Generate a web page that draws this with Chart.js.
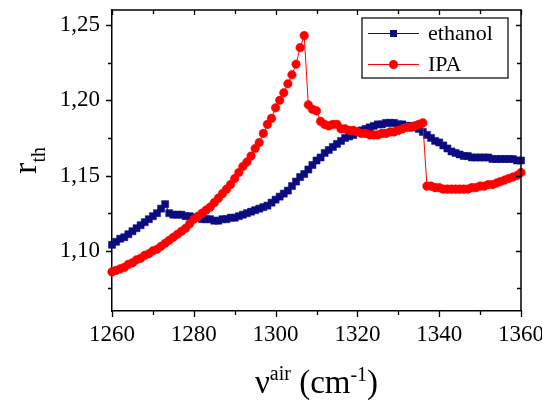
<!DOCTYPE html>
<html>
<head>
<meta charset="utf-8">
<script src="https://cdn.jsdelivr.net/npm/chart.js@4/dist/chart.umd.min.js"></script>
<style>
  html, body { margin: 0; padding: 0; background: #fff; }
  #wrap { width: 542px; height: 401px; position: relative; }
</style>
</head>
<body>
<div id="wrap"><canvas id="c" width="542" height="401"></canvas></div>
<script>
// ---- data ----
const wavenumbers = [1260,1261,1262,1263,1264,1265,1266,1267,1268,1269,
  1270,1271,1272,1273,1274,1275,1276,1277,1278,1279,
  1280,1281,1282,1283,1284,1285,1286,1287,1288,1289,
  1290,1291,1292,1293,1294,1295,1296,1297,1298,1299,
  1300,1301,1302,1303,1304,1305,1306,1307,1308,1309,
  1310,1311,1312,1313,1314,1315,1316,1317,1318,1319,
  1320,1321,1322,1323,1324,1325,1326,1327,1328,1329,
  1330,1331,1332,1333,1334,1335,1336,1337,1338,1339,
  1340,1341,1342,1343,1344,1345,1346,1347,1348,1349,
  1350,1351,1352,1353,1354,1355,1356,1357,1358,1359,1360];

const ethanol = [1.104,1.106,1.108,1.109,1.111,1.113,1.115,1.117,1.119,1.121,
  1.123,1.125,1.128,1.131,1.125,1.124,1.124,1.124,1.123,1.123,
  1.122,1.122,1.121,1.121,1.121,1.120,1.120,1.121,1.121,1.122,
  1.122,1.123,1.124,1.125,1.126,1.127,1.128,1.129,1.130,1.132,
  1.134,1.136,1.138,1.140,1.143,1.146,1.149,1.151,1.154,1.157,
  1.160,1.162,1.165,1.167,1.169,1.171,1.173,1.175,1.176,1.177,
  1.179,1.180,1.181,1.182,1.183,1.184,1.184,1.185,1.185,1.185,
  1.184,1.184,1.183,1.183,1.182,1.181,1.179,1.177,1.175,1.173,
  1.172,1.170,1.168,1.166,1.165,1.164,1.163,1.163,1.162,1.162,
  1.162,1.162,1.162,1.161,1.161,1.161,1.161,1.161,1.161,1.160,1.160];

const ipa = [1.086,1.087,1.088,1.089,1.091,1.092,1.094,1.095,1.097,1.098,
  1.100,1.101,1.103,1.105,1.107,1.109,1.111,1.113,1.115,1.118,
  1.121,1.123,1.125,1.127,1.129,1.132,1.135,1.138,1.141,1.144,
  1.148,1.152,1.156,1.159,1.163,1.168,1.172,1.178,1.184,1.188,
  1.195,1.200,1.205,1.211,1.217,1.224,1.235,1.243,1.197,1.194,
  1.193,1.186,1.184,1.183,1.184,1.184,1.181,1.181,1.180,1.180,
  1.179,1.178,1.178,1.177,1.177,1.177,1.178,1.178,1.179,1.179,
  1.180,1.181,1.182,1.182,1.183,1.184,1.185,1.143,1.143,1.142,
  1.142,1.141,1.141,1.141,1.141,1.141,1.141,1.141,1.142,1.142,
  1.143,1.143,1.144,1.144,1.145,1.146,1.147,1.148,1.149,1.150,1.152];

const seriesNames = ['ethanol', 'IPA'];
const xMajorTicks = [1260, 1280, 1300, 1320, 1340, 1360];
const xMinorTicks = [1270, 1290, 1310, 1330, 1350];
const yMajorTicks = [1.10, 1.15, 1.20, 1.25];
const yMinorTicks = [1.075, 1.125, 1.175, 1.225];
const yTickLabels = ['1,10', '1,15', '1,20', '1,25'];

// ---- styles ----
const NAVY = '#0c0c80';
const RED = '#ff0000';
const SERIF = '"Liberation Serif", "Times New Roman", serif';

function pts(xs, ys) { return xs.map((x, i) => ({ x: x, y: ys[i] })); }

const framePlugin = {
  id: 'frame',
  afterDraw(chart) {
    const ctx = chart.ctx;
    const a = chart.chartArea;
    const xs = chart.scales.x, ys = chart.scales.y;
    ctx.save();
    ctx.strokeStyle = '#000';
    ctx.lineWidth = 1.5;
    // frame top and right
    ctx.beginPath();
    ctx.moveTo(a.left, a.top); ctx.lineTo(a.right, a.top); ctx.lineTo(a.right, a.bottom);
    ctx.stroke();
    ctx.lineWidth = 1.3;
    ctx.beginPath();
    xMajorTicks.forEach(v => {
      const p = Math.round(xs.getPixelForValue(v)) + 0.5;
      ctx.moveTo(p, a.bottom); ctx.lineTo(p, a.bottom + 6);
      ctx.moveTo(p, a.top); ctx.lineTo(p, a.top + 5);
    });
    xMinorTicks.forEach(v => {
      const p = Math.round(xs.getPixelForValue(v)) + 0.5;
      ctx.moveTo(p, a.bottom); ctx.lineTo(p, a.bottom + 4);
      ctx.moveTo(p, a.top); ctx.lineTo(p, a.top + 4);
    });
    yMajorTicks.forEach(v => {
      const p = Math.round(ys.getPixelForValue(v)) + 0.5;
      ctx.moveTo(a.left, p); ctx.lineTo(a.left - 6, p);
      ctx.moveTo(a.right, p); ctx.lineTo(a.right - 5, p);
    });
    yMinorTicks.forEach(v => {
      const p = Math.round(ys.getPixelForValue(v)) + 0.5;
      ctx.moveTo(a.left, p); ctx.lineTo(a.left - 4, p);
      ctx.moveTo(a.right, p); ctx.lineTo(a.right - 4, p);
    });
    ctx.stroke();

    // legend box
    const lx = 362, ly = 18, lw = 146, lh = 60;
    ctx.fillStyle = '#fff';
    ctx.fillRect(lx, ly, lw, lh);
    ctx.lineWidth = 1.5;
    ctx.strokeStyle = '#333';
    ctx.strokeRect(lx, ly, lw, lh);
    const entries = [
      { name: seriesNames[0], color: NAVY, shape: 'rect', y: 33 },
      { name: seriesNames[1], color: RED, shape: 'circle', y: 64 }
    ];
    entries.forEach(e => {
      ctx.strokeStyle = e.color;
      ctx.lineWidth = 1;
      ctx.beginPath();
      ctx.moveTo(368, e.y + 0.5); ctx.lineTo(419, e.y + 0.5);
      ctx.stroke();
      ctx.fillStyle = e.color;
      if (e.shape === 'rect') {
        ctx.fillRect(390, e.y - 3, 7, 7);
      } else {
        ctx.beginPath();
        ctx.arc(393.5, e.y + 0.5, 4.5, 0, Math.PI * 2);
        ctx.fill();
      }
      ctx.fillStyle = '#000';
      ctx.font = '22px ' + SERIF;
      ctx.textBaseline = 'middle';
      ctx.textAlign = 'left';
      ctx.fillText(e.name, 428, e.y + 1);
    });

    // x axis title: ν^air (cm^-1)
    const parts = [
      { t: '\u03bd', f: 33, dy: 0 },
      { t: 'air', f: 20, dy: -13 },
      { t: ' (cm', f: 33, dy: 0 },
      { t: '-1', f: 20, dy: -12 },
      { t: ')', f: 33, dy: 0 }
    ];
    let total = 0;
    parts.forEach(p => { ctx.font = p.f + 'px ' + SERIF; p.w = ctx.measureText(p.t).width; total += p.w; });
    let cx = (a.left + a.right) / 2 - total / 2;
    ctx.textBaseline = 'alphabetic';
    ctx.textAlign = 'left';
    ctx.fillStyle = '#000';
    parts.forEach(p => {
      ctx.font = p.f + 'px ' + SERIF;
      ctx.fillText(p.t, cx, 393 + p.dy);
      cx += p.w;
    });

    // y axis title: r_th
    ctx.save();
    ctx.translate(36, (a.top + a.bottom) / 2);
    ctx.rotate(-Math.PI / 2);
    ctx.font = '34px ' + SERIF;
    const wr = ctx.measureText('r').width;
    ctx.font = '20px ' + SERIF;
    const wt = ctx.measureText('th').width;
    const start = -(wr + wt) / 2;
    ctx.font = '34px ' + SERIF;
    ctx.fillText('r', start, 0);
    ctx.font = '20px ' + SERIF;
    ctx.fillText('th', start + wr, 9);
    ctx.restore();

    ctx.restore();
  }
};

new Chart(document.getElementById('c'), {
  type: 'line',
  data: {
    datasets: [
      {
        label: seriesNames[1],
        data: pts(wavenumbers, ipa),
        borderColor: RED,
        backgroundColor: RED,
        borderWidth: 1,
        pointStyle: 'circle',
        pointRadius: 4.3,
        pointBorderWidth: 0.5,
        pointBackgroundColor: RED,
        pointBorderColor: RED,
        tension: 0,
        clip: 12,
        order: 0
      },
      {
        label: seriesNames[0],
        data: pts(wavenumbers, ethanol),
        borderColor: NAVY,
        backgroundColor: NAVY,
        borderWidth: 1,
        pointStyle: 'rect',
        pointRadius: 5,
        pointBorderWidth: 0.5,
        pointBackgroundColor: NAVY,
        pointBorderColor: NAVY,
        tension: 0,
        clip: 12,
        order: 1
      }
    ]
  },
  options: {
    responsive: false,
    animation: false,
    events: [],
    layout: { padding: { left: 0, right: 21, top: 10, bottom: 0 } },
    plugins: { legend: { display: false }, tooltip: { enabled: false } },
    scales: {
      x: {
        type: 'linear',
        min: 1260, max: 1360,
        afterBuildTicks(s) { s.ticks = xMajorTicks.map(v => ({ value: v })); },
        afterFit(s) { s.height = 90; s.paddingLeft = 0; s.paddingRight = 0; },
        grid: { display: false, drawTicks: false },
        border: { display: true, color: '#000', width: 1.5 },
        ticks: {
          autoSkip: false,
          maxRotation: 0,
          padding: 10,
          color: '#000',
          font: { family: SERIF, size: 23 },
          callback(v) { return String(v); }
        }
      },
      y: {
        type: 'linear',
        min: 1.06, max: 1.26,
        afterBuildTicks(s) { s.ticks = yMajorTicks.map(v => ({ value: v })); },
        afterFit(s) { s.width = 112; s.paddingTop = 0; s.paddingBottom = 0; },
        grid: { display: false, drawTicks: false },
        border: { display: true, color: '#000', width: 1.5 },
        ticks: {
          autoSkip: false,
          padding: 12,
          color: '#000',
          font: { family: SERIF, size: 23 },
          callback(v, i) { return yTickLabels[i]; }
        }
      }
    }
  },
  plugins: [framePlugin]
});
</script>
</body>
</html>
